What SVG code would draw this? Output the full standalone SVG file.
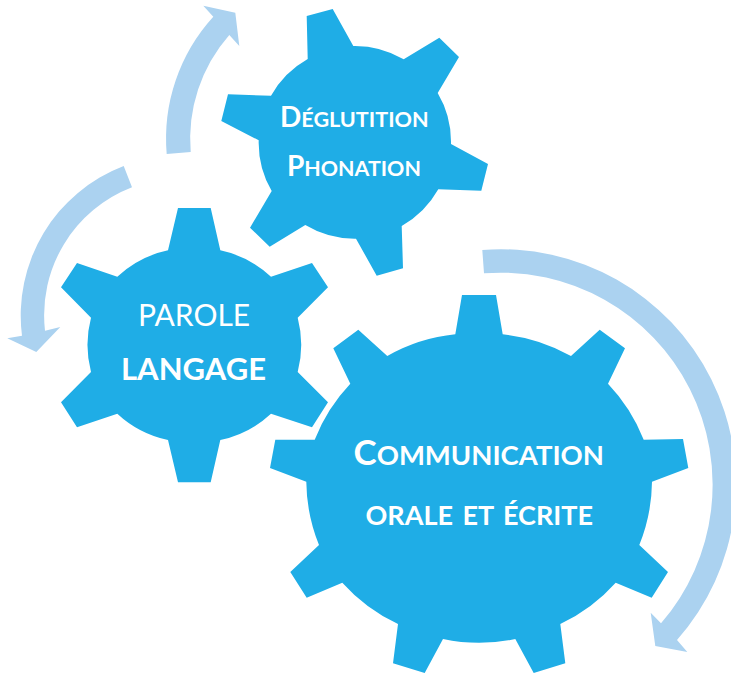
<svg xmlns="http://www.w3.org/2000/svg" width="731" height="673" viewBox="0 0 731 673">
<style>
.gear{fill:#1FADE6}
.arrow{fill:#ABD2F0}
text{font-family:"Lato","Open Sans","Liberation Sans",sans-serif;fill:#fff;font-weight:700}
.reg{font-weight:400}
</style>
<rect width="731" height="673" fill="#fff"/>
<g id="connectors">
<path class="arrow" d="M166.7 154A181 181 0 0 1 213.3 16.7L203.3 5.7L235.3 12.7L239.3 46L229.3 35A157.6 157.6 0 0 0 190.7 152Z"/>
<path class="arrow" d="M123.7 166A160 160 0 0 0 22 335.7L7.3 338.3L36.3 352L60.3 327L45 330.7A137 137 0 0 1 132 187.3Z"/>
<path class="arrow" d="M482.3 250A235 235 0 0 1 677 640L687.3 652L655.3 646L650.7 612.7L661 623.3A212 212 0 0 0 484 273.3Z"/>
</g>
<g id="gear-deglutition">
<path class="gear" d="M306.7 16L332.7 9L353.3 46A96 96 0 0 1 403.7 59.3L439.3 37.7L459 57L437.7 93A96 96 0 0 1 451 144L488 164L481.3 190.7L438.3 189.3A96 96 0 0 1 401.7 226L403 268.3L376.7 275.7L356 238.7A96 96 0 0 1 305.3 225L269.7 246.7L250 227.7L271.7 191A96 96 0 0 1 258.7 140.3L221.3 121L228 94.3L271 95.7A96 96 0 0 1 307.7 59Z"/>
<text x="280" y="127" font-size="21.6"><tspan font-size="28">D</tspan>ÉGLUTITION</text>
<text x="287" y="176" font-size="21.4"><tspan font-size="28">P</tspan>HONATION</text>
</g>
<g id="gear-parole">
<path class="gear" d="M178 208L210.7 208L220.3 250.3A107 107 0 0 1 271 276.7L312 263L328 287.3L297.7 317.7A107 107 0 0 1 297.7 372L328 402.3L312 427.3L271 413.7A107 107 0 0 1 220.3 440L210.7 482.3L178 482.3L168 440A107 107 0 0 1 117.3 413.7L77 427.3L61 402.3L91 372A107 107 0 0 1 91 317.7L61 287.3L77 263L117.3 276.7A107 107 0 0 1 168 250.3Z"/>
<text class="reg" x="138" y="326" font-size="30">PAROLE</text>
<text x="121" y="380" font-size="31">LANGAGE</text>
</g>
<g id="gear-communication">
<path class="gear" d="M462 295L496 295L502.7 334.3A173 173 0 0 1 571 356L599.7 329.7L625 348.3L608 383.7A173 173 0 0 1 643.7 439.7L683 439L688.3 468L652 481.7A173 173 0 0 1 639.3 545L668 572L651.7 597.7L615.7 582.7A173 173 0 0 1 560.3 624L565.3 663.3L533.7 673L515.3 639A173 173 0 0 1 443 639L424.7 673L393 663.3L398 624A173 173 0 0 1 342.3 582.7L306.7 597.7L290.3 572L319 545A173 173 0 0 1 306.3 481.7L270 468L275.3 439.7L314.7 439.7A173 173 0 0 1 350.3 383.7L333.3 348.3L358.3 329.7L387.3 356A173 173 0 0 1 455.3 334.3Z"/>
<text x="353.5" y="465" font-size="27.5"><tspan font-size="35">C</tspan>OMMUNICATION</text>
<text x="365.5" y="525" font-size="27" word-spacing="3">ORALE ET ÉCRITE</text>
</g>
</svg>
